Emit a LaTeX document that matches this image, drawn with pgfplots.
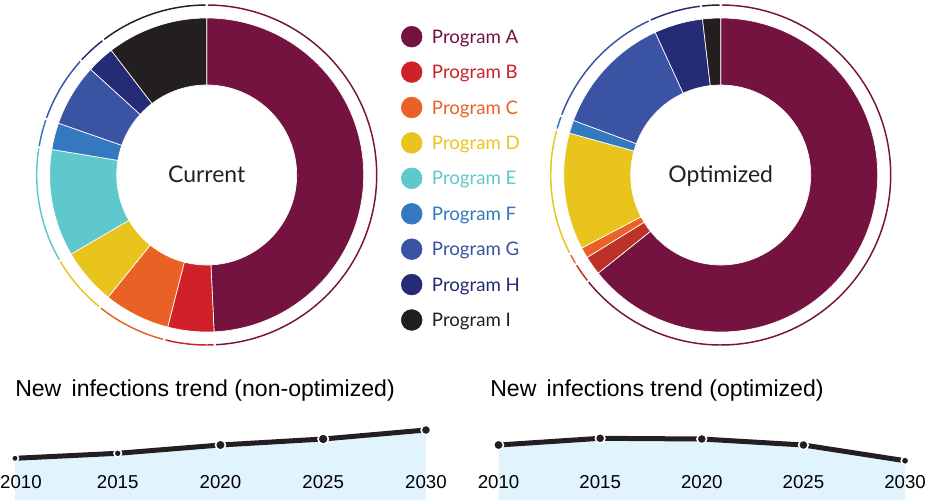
\documentclass[border=0pt]{standalone}
\usepackage{pgfplots}
\usepackage{pgfplotstable}
\pgfplotsset{compat=1.18}
\usepackage{fontspec}
\setmainfont{Liberation Sans}
\newfontfamily\lato{Lato}

\definecolor{cA}{HTML}{741340}
\definecolor{cB}{HTML}{D12128}
\definecolor{cBo}{HTML}{BC3128}
\definecolor{cC}{HTML}{EA6125}
\definecolor{cD}{HTML}{E9C41D}
\definecolor{cE}{HTML}{5EC8CC}
\definecolor{cF}{HTML}{3479BF}
\definecolor{cG}{HTML}{3A53A3}
\definecolor{cH}{HTML}{252B74}
\definecolor{cI}{HTML}{231F20}
\definecolor{fillblue}{HTML}{E1F3FD}

% shares in percent, clockwise from 12 o'clock
\pgfplotstableread{
share col
49.25 cA
4.75  cB
6.8   cC
5.8   cD
11.0  cE
2.75  cF
6.4   cG
2.85  cH
10.4  cI
}\curtab
\pgfplotstableread{
share col
64.25 cA
1.95  cBo
1.1   cC
12.0  cD
0     cE
1.35  cF
12.5  cG
5.0   cH
1.85  cI
}\opttab

% new infections (relative heights)
\pgfplotstableread{
yr   v    ms
2010 41.7 2.6
2015 46.7 2.8
2020 55.0 3.75
2025 61.0 3.9
2030 70.0 3.6
}\trendcur
\pgfplotstableread{
yr   v    ms
2010 55.0 3.7
2015 61.7 3.6
2020 61.0 3.6
2025 55.0 3.6
2030 39.3 2.9
}\trendopt

% donut: table, centre x, centre y (page px)
\newcommand\donut[3]{%
  \def\cum{90}%
  \pgfplotstablegetrowsof{#1}%
  \pgfmathtruncatemacro\nr{\pgfplotsretval-1}%
  \pgfplotsforeachungrouped \i in {0,...,\nr}{%
    \pgfplotstablegetelem{\i}{share}\of{#1}\let\sh\pgfplotsretval
    \pgfplotstablegetelem{\i}{col}\of{#1}\let\co\pgfplotsretval
    \pgfmathsetmacro\ea{\cum-3.6*\sh}%
    \ifdim\sh pt>0pt
      \pgfmathsetmacro\xo{#2+157*cos(\cum)}\pgfmathsetmacro\yo{#3+157*sin(\cum)}%
      \pgfmathsetmacro\xi{#2+90*cos(\ea)}\pgfmathsetmacro\yi{#3+90*sin(\ea)}%
      \edef\tmp{\noexpand\fill[\co,draw=white,line width=0.5pt]
        (axis cs:\xo,\yo) arc[start angle=\cum,end angle=\ea,radius=117.75pt]
        -- (axis cs:\xi,\yi) arc[start angle=\ea,end angle=\cum,radius=67.5pt] -- cycle;}%
      \tmp
      \pgfmathsetmacro\ra{\cum-0.4}\pgfmathsetmacro\rb{\ea+0.4}%
      \pgfmathsetmacro\xr{#2+170*cos(\ra)}\pgfmathsetmacro\yr{#3+170*sin(\ra)}%
      \edef\tmp{\noexpand\draw[\co,line width=1.1pt]
        (axis cs:\xr,\yr) arc[start angle=\ra,end angle=\rb,radius=127.5pt];}%
      \tmp
    \fi
    \let\cum\ea
  }%
}
\newcommand\legrow[3]{%
  \addplot[only marks, mark=*, mark size=7.8pt, color=#2,
    nodes near coords={#3},
    every node near coord/.append style={anchor=base west, xshift=15pt, yshift=-4.95pt,
      text=#2, font=\lato\fontsize{14}{16}\selectfont, inner sep=0pt}]
    coordinates {(411.7,#1)};}

\pgfplotsset{trend/.style={
  anchor=south west, y=0.75pt, xmin=2010, xmax=2030, ymin=0, ymax=100, clip=false,
  axis on top,
  axis x line*=bottom, axis y line=none, x axis line style={draw=none},
  xtick={2010,2015,2020,2025,2030}, major tick length=0pt,
  xticklabel style={anchor=base, yshift=8.6pt, inner sep=0pt, font=\fontsize{14}{16}\selectfont},
  /pgf/number format/1000 sep={}, /pgf/number format/assume math mode=true},
  trendmarks/.style={scatter, only marks, mark=*, line width=1.2pt,
    scatter/use mapped color={draw=white, fill=cI},
    visualization depends on={\thisrow{ms}\as\msz},
    scatter/@pre marker code/.append style={/tikz/mark size=\msz}}}

\begin{document}
\begin{tikzpicture}
\begin{axis}[at={(0pt,0pt)}, anchor=north west, x=0.75pt, y=0.75pt,
  xmin=0, xmax=925, ymin=-500, ymax=0, hide axis, clip=false]
  \donut{\curtab}{206.7}{-175}
  \donut{\opttab}{720.7}{-175}
  \node[anchor=base, inner sep=0pt, font=\lato\fontsize{17.2}{19}\selectfont, text=cI]
    at (axis cs:206.7,-182.7) {Current};
  \node[anchor=base, inner sep=0pt, font=\lato\fontsize{17.2}{19}\selectfont, text=cI]
    at (axis cs:720.7,-182.7) {Optimized};
  \legrow{-36.7}{cA}{Program A}
  \legrow{-72.1}{cB}{Program B}
  \legrow{-107.5}{cC}{Program C}
  \legrow{-142.9}{cD}{Program D}
  \legrow{-178.3}{cE}{Program E}
  \legrow{-213.8}{cF}{Program F}
  \legrow{-249.2}{cG}{Program G}
  \legrow{-284.6}{cH}{Program H}
  \legrow{-320.0}{cI}{Program I}
\end{axis}

\node[anchor=base west, inner sep=0pt, font=\fontsize{17.3}{19}\selectfont] at (11.25pt,-297pt)
  {New\,~infections trend (non-optimized)};
\node[anchor=base west, inner sep=0pt, font=\fontsize{17.3}{19}\selectfont] at (367.5pt,-297pt)
  {New\,~infections trend (optimized)};

\begin{axis}[trend, at={(11.25pt,-375pt)}, x=15.41pt,
  xticklabel={\ifnum\ticknum=0 \hspace*{9pt}\fi\pgfmathprintnumber{\tick}}]
  \addplot[fill=fillblue, draw=none] table[x=yr, y=v]{\trendcur} \closedcycle;
  \addplot[cI, line width=3.75pt, line join=round] table[x=yr, y=v]{\trendcur};
  \addplot[trendmarks] table[x=yr, y=v]{\trendcur};
\end{axis}
\begin{axis}[trend, at={(373.9pt,-375pt)}, x=15.244pt]
  \addplot[fill=fillblue, draw=none] table[x=yr, y=v]{\trendopt} \closedcycle;
  \addplot[cI, line width=3.75pt, line join=round] table[x=yr, y=v]{\trendopt};
  \addplot[trendmarks] table[x=yr, y=v]{\trendopt};
\end{axis}

\pgfresetboundingbox
\useasboundingbox (0pt,0pt) rectangle (693.75pt,-375pt);
\end{tikzpicture}
\end{document}
